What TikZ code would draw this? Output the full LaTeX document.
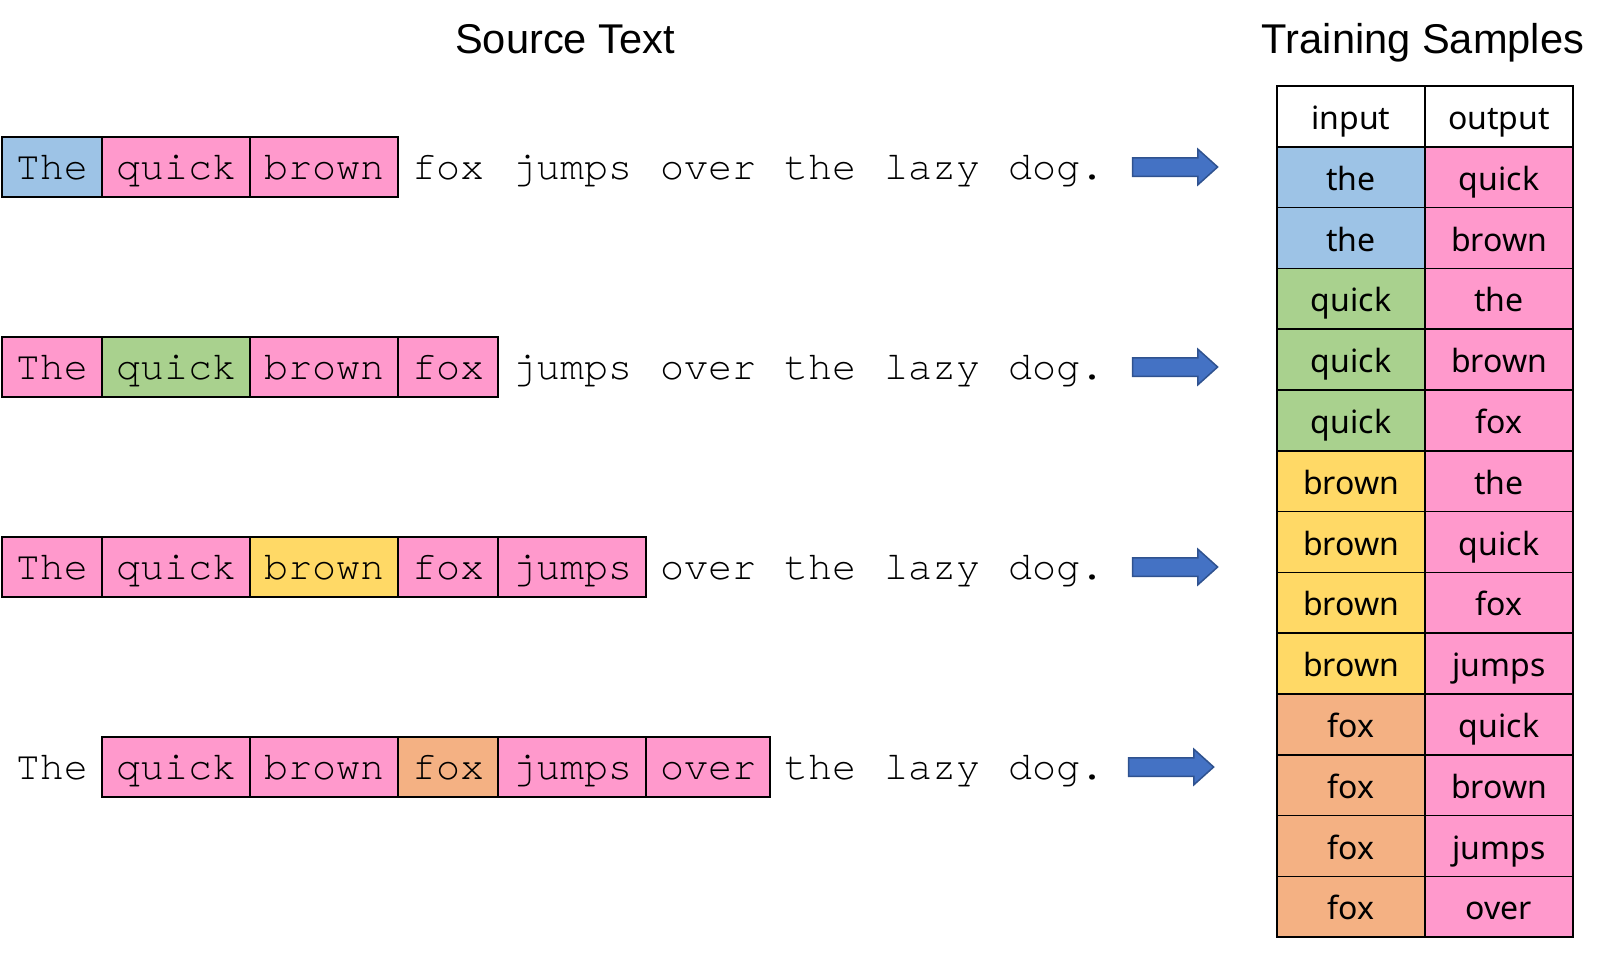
\documentclass[tikz,border=0pt]{standalone}
\usepackage{fontspec}
\setmainfont{Liberation Sans}
\setmonofont{texgyrecursor-regular.otf}
\newfontfamily\tabfont{Noto Sans}
\usetikzlibrary{positioning,shapes.arrows}

\definecolor{cBlue}{HTML}{9DC3E6}
\definecolor{cPink}{HTML}{FF99CC}
\definecolor{cGreen}{HTML}{A9D18E}
\definecolor{cYellow}{HTML}{FFD966}
\definecolor{cOrange}{HTML}{F4B183}
\definecolor{cArrow}{HTML}{4472C4}
\definecolor{cArrowLine}{HTML}{2F528F}

\tikzset{
  word/.style={minimum height=60pt, inner xsep=14pt, inner ysep=0pt, outer sep=0pt,
    text height=30pt, text depth=6pt, anchor=west,
    font=\ttfamily\fontsize{40}{48}\selectfont},
  boxed/.style={draw, line width=1.6pt},
  blu/.style={boxed, fill=cBlue},
  pnk/.style={boxed, fill=cPink},
  grn/.style={boxed, fill=cGreen},
  ylw/.style={boxed, fill=cYellow},
  org/.style={boxed, fill=cOrange},
  bare/.style={},
  cell/.style={draw, line width=1.5pt, minimum width=148pt, minimum height=60.8pt,
    inner sep=0pt, outer sep=0pt, text height=32pt, text depth=6pt,
    font=\tabfont\fontsize{32}{38}\selectfont},
  title/.style={anchor=base, font=\fontsize{41.6}{48}\selectfont},
  blockarrow/.style={single arrow, draw=cArrowLine, fill=cArrow, line width=1.5pt,
    minimum height=85pt, minimum width=34pt, inner xsep=0pt, inner ysep=8.5pt,
    text height=0pt, text depth=0pt, single arrow head extend=8.5pt,
    single arrow tip angle=84}
}

\begin{document}
\begin{tikzpicture}[x=1pt, y=-1pt]
    \useasboundingbox (0,0) rectangle (1610,953);

    % Titles
    \node[title] (srctitle) at (565,53) {Source Text};
    \node[title] (samtitle) at (1423,53) {Training Samples};

    % Source sentences, one per window position
    \foreach \r/\y/\s in {1/167/{blu,pnk,pnk,bare,bare,bare,bare,bare,bare},
                          2/367/{pnk,grn,pnk,pnk,bare,bare,bare,bare,bare},
                          3/567/{pnk,pnk,ylw,pnk,pnk,bare,bare,bare,bare},
                          4/767/{bare,pnk,pnk,org,pnk,pnk,bare,bare,bare}} {
        \coordinate (r\r w0) at (2,\y);
        \foreach \w [count=\k, remember=\k as \p (initially 0)]
                in {The, quick, brown, fox, jumps, over, the, lazy, dog.} {
            \foreach \t [count=\j] in \s {
                \ifnum\j=\k \xdef\curstyle{\t}\fi
            }
            \node[word, \curstyle] (r\r w\k) at (r\r w\p.east) {\w};
        }
    }

    % Arrows to the sample table
    \node[blockarrow] (arr1) at (1170,167) {};
    \node[blockarrow] (arr2) at (1170,367) {};
    \node[blockarrow] (arr3) at (1170,567) {};
    \node[blockarrow] (arr4) at (1166,767) {};

    % Table of (input, output) pairs
    \node[cell] (in0) at (1351,116.4) {input};
    \node[cell] (out0) at (1499,116.4) {output};
    \foreach \a/\b/\ca/\cb [count=\i] in {the/quick/cBlue/cPink, the/brown/cBlue/cPink,
            quick/the/cGreen/cPink, quick/brown/cGreen/cPink, quick/fox/cGreen/cPink,
            brown/the/cYellow/cPink, brown/quick/cYellow/cPink, brown/fox/cYellow/cPink,
            brown/jumps/cYellow/cPink, fox/quick/cOrange/cPink, fox/brown/cOrange/cPink,
            fox/jumps/cOrange/cPink, fox/over/cOrange/cPink} {
        \node[cell, fill=\ca] (in\i) at (1351,116.4+60.8*\i) {\a};
        \node[cell, fill=\cb] (out\i) at (1499,116.4+60.8*\i) {\b};
    }
\end{tikzpicture}
\end{document}
